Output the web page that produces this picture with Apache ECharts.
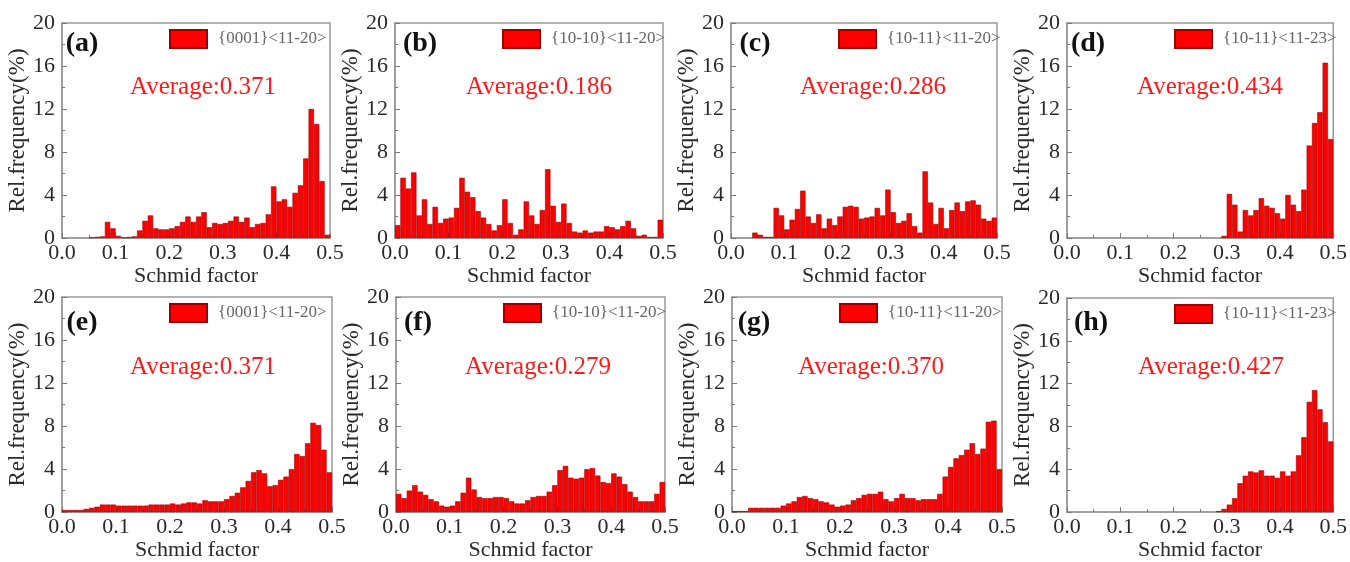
<!DOCTYPE html>
<html>
<head>
<meta charset="utf-8">
<script src="https://cdn.jsdelivr.net/npm/echarts@6/dist/echarts.min.js"></script>
<style>
html, body { margin: 0; padding: 0; background: #fff; }
#chart { width: 1350px; height: 562px; }
</style>
</head>
<body>
<div id="chart"></div>
<script>
// Schmid factor bins, 0.01 wide
const binStarts = [
    0.00, 0.01, 0.02, 0.03, 0.04, 0.05, 0.06, 0.07, 0.08, 0.09,
    0.10, 0.11, 0.12, 0.13, 0.14, 0.15, 0.16, 0.17, 0.18, 0.19,
    0.20, 0.21, 0.22, 0.23, 0.24, 0.25, 0.26, 0.27, 0.28, 0.29,
    0.30, 0.31, 0.32, 0.33, 0.34, 0.35, 0.36, 0.37, 0.38, 0.39,
    0.40, 0.41, 0.42, 0.43, 0.44, 0.45, 0.46, 0.47, 0.48, 0.49
];

const xTicks = [0, 0.1, 0.2, 0.3, 0.4, 0.5];
const yTicks = [0, 4, 8, 12, 16, 20];

const panelLabels = ['(a)', '(b)', '(c)', '(d)', '(e)', '(f)', '(g)', '(h)'];
const slipSystems = [
    '{0001}<11-20>', '{10-10}<11-20>', '{10-11}<11-20>', '{10-11}<11-23>',
    '{0001}<11-20>', '{10-10}<11-20>', '{10-11}<11-20>', '{10-11}<11-23>'
];
const averages = ['0.371', '0.186', '0.286', '0.434', '0.371', '0.279', '0.370', '0.427'];

// relative frequency (%) per bin
const freqA = [
    0, 0, 0, 0, 0, 0.05, 0.1, 0.15, 1.5, 0.9,
    0.2, 0.05, 0.1, 0.15, 0.7, 1.6, 2.1, 0.9, 0.8, 0.8,
    0.9, 1.1, 1.5, 2.0, 1.5, 2.0, 2.4, 1.0, 1.4, 1.3,
    1.4, 1.6, 2.0, 1.5, 1.9, 1.0, 1.3, 1.4, 2.2, 4.8,
    3.4, 3.6, 2.9, 4.2, 4.9, 7.4, 12.0, 10.6, 5.3, 0.3
];
const freqB = [
    1.2, 5.6, 4.6, 6.1, 2.1, 3.6, 1.3, 2.9, 1.4, 1.8,
    1.9, 2.8, 5.6, 4.3, 3.8, 2.5, 1.9, 1.3, 0.7, 1.2,
    3.6, 1.4, 0.3, 0.8, 3.4, 2.1, 1.3, 2.6, 6.4, 3.0,
    1.5, 3.2, 1.4, 0.6, 0.5, 0.7, 0.5, 0.6, 0.6, 1.1,
    1.0, 0.8, 1.1, 1.6, 0.9, 0.2, 0.3, 0.1, 0.1, 1.7
];
const freqC = [
    0, 0, 0, 0, 0.5, 0.3, 0.1, 0.1, 2.8, 2.1,
    0.8, 1.7, 2.7, 4.4, 2.0, 1.4, 2.2, 0.9, 1.8, 1.2,
    2.0, 2.9, 3.0, 2.9, 1.8, 1.9, 2.0, 2.8, 2.1, 4.5,
    2.4, 1.4, 1.6, 2.3, 1.1, 0.5, 6.2, 3.3, 1.3, 2.8,
    0.9, 2.6, 3.3, 2.5, 3.4, 3.5, 3.1, 1.8, 1.6, 1.9
];
const freqD = [
    0, 0, 0, 0, 0, 0, 0, 0, 0, 0,
    0, 0, 0, 0, 0, 0, 0, 0, 0, 0,
    0, 0, 0, 0, 0, 0, 0, 0, 0, 0.2,
    4.1, 3.1, 0.6, 2.6, 2.1, 2.6, 3.7, 3.0, 2.8, 2.3,
    1.8, 4.0, 3.1, 2.5, 4.5, 8.6, 10.7, 11.7, 16.3, 9.2
];
const freqE = [
    0.2, 0.2, 0.2, 0.2, 0.3, 0.4, 0.5, 0.7, 0.7, 0.7,
    0.6, 0.6, 0.6, 0.6, 0.6, 0.6, 0.7, 0.7, 0.7, 0.7,
    0.8, 0.7, 0.8, 0.9, 0.9, 0.8, 1.1, 1.0, 1.0, 1.0,
    1.2, 1.5, 1.8, 2.3, 2.9, 3.7, 3.9, 3.6, 2.4, 2.5,
    3.0, 3.3, 4.0, 5.4, 5.2, 6.4, 8.3, 8.1, 5.8, 3.7
];
const freqF = [
    1.7, 1.3, 2.0, 2.5, 1.9, 1.6, 1.2, 1.0, 0.6, 0.5,
    0.6, 1.0, 1.8, 3.2, 2.1, 1.4, 1.3, 1.3, 1.4, 1.4,
    1.3, 1.0, 0.8, 0.8, 1.1, 1.4, 1.5, 1.5, 1.9, 2.5,
    3.9, 4.3, 3.2, 3.1, 3.2, 4.0, 4.1, 3.4, 2.8, 2.7,
    3.6, 3.3, 2.6, 1.9, 1.4, 1.0, 1.0, 1.0, 1.7, 2.8
];
const freqG = [
    0.1, 0.1, 0.1, 0.4, 0.4, 0.4, 0.4, 0.4, 0.4, 0.6,
    0.8, 1.0, 1.4, 1.5, 1.3, 1.2, 1.0, 0.9, 0.7, 0.5,
    0.6, 0.7, 1.1, 1.3, 1.6, 1.7, 1.7, 1.9, 1.2, 1.0,
    1.3, 1.7, 1.3, 1.3, 1.1, 1.2, 1.2, 1.2, 1.7, 3.3,
    4.2, 5.0, 5.3, 5.8, 6.4, 5.4, 5.9, 8.4, 8.5, 4.0
];
const freqH = [
    0, 0, 0, 0, 0, 0, 0, 0, 0, 0,
    0, 0, 0, 0, 0, 0, 0, 0, 0, 0,
    0, 0, 0, 0, 0, 0, 0, 0, 0.1, 0.3,
    0.7, 1.3, 2.7, 3.4, 3.8, 3.7, 3.9, 3.4, 3.4, 3.2,
    3.8, 3.4, 3.8, 5.3, 7.0, 10.3, 11.4, 9.6, 8.4, 6.6
];
const freqs = [freqA, freqB, freqC, freqD, freqE, freqF, freqG, freqH];

// layout (pixels)
const gridBoxes = [
    { left: 62, top: 23, width: 268, height: 215 },
    { left: 395, top: 23, width: 268, height: 215 },
    { left: 731, top: 23, width: 266, height: 215 },
    { left: 1067, top: 23, width: 268, height: 215 },
    { left: 62, top: 297, width: 270, height: 217 },
    { left: 396, top: 297, width: 269, height: 217 },
    { left: 732, top: 297, width: 270, height: 217 },
    { left: 1067, top: 298, width: 268, height: 217 }
];
const labelPos = [[82, 44], [420, 44], [755, 44], [1088, 44], [82, 323], [418, 323], [754, 323], [1091, 323]];
const avgPos = [[203, 87], [539, 87], [873, 87], [1210, 87], [203, 367], [538, 367], [871, 367], [1211, 367]];

const serif = "'Liberation Serif', 'Times New Roman', serif";
const frameColor = '#9a9a9a';
const textColor = '#2a2a2a';

const chart = echarts.init(document.getElementById('chart'));

const grid = [], xAxis = [], yAxis = [], series = [], legend = [], graphic = [];

gridBoxes.forEach((box, i) => {
    grid.push({
        left: box.left, top: box.top, width: box.width, height: box.height,
        show: true, borderColor: frameColor, borderWidth: 1.5, containLabel: false
    });

    // bins (hidden category axis)
    xAxis.push({
        type: 'category', gridIndex: i, data: binStarts, position: 'top',
        boundaryGap: true, show: false
    });
    // visible Schmid factor axis
    xAxis.push({
        type: 'value', gridIndex: i, position: 'bottom',
        min: xTicks[0], max: xTicks[xTicks.length - 1], interval: 0.1,
        name: 'Schmid factor', nameLocation: 'middle', nameGap: 26,
        nameTextStyle: { fontFamily: serif, fontSize: 22, color: textColor },
        axisLine: { show: true, lineStyle: { color: frameColor, width: 1.5 } },
        axisTick: { show: true, inside: true, length: 5, lineStyle: { color: '#777' } },
        minorTick: { show: true, splitNumber: 2, length: 3, lineStyle: { color: '#777' } },
        axisLabel: {
            fontFamily: serif, fontSize: 22, color: textColor, margin: 4,
            formatter: v => v.toFixed(1)
        },
        splitLine: { show: false }
    });

    yAxis.push({
        type: 'value', gridIndex: i,
        min: yTicks[0], max: yTicks[yTicks.length - 1], interval: 4,
        name: 'Rel.frequency(%)', nameLocation: 'middle', nameGap: 27, nameRotate: 90,
        nameTextStyle: { fontFamily: serif, fontSize: 23, color: textColor },
        axisLine: { show: true, lineStyle: { color: frameColor, width: 1.5 } },
        axisTick: { show: true, inside: true, length: 5, lineStyle: { color: '#777' } },
        minorTick: { show: true, splitNumber: 2, length: 3, lineStyle: { color: '#777' } },
        axisLabel: { fontFamily: serif, fontSize: 22, color: textColor, margin: 7 },
        splitLine: { show: false }
    });

    series.push({
        type: 'bar', name: slipSystems[i],
        xAxisIndex: i * 2, yAxisIndex: i,
        // empty bins drawn as no bar
        data: freqs[i].map(v => (v === 0 ? '-' : v)),
        barCategoryGap: '0%',
        itemStyle: { color: '#ff0000', borderColor: '#9a0000', borderWidth: 0.6 },
        emphasis: { disabled: true }
    });

    legend.push({
        data: [slipSystems[i]],
        left: box.left + 102, top: box.top + 1,
        itemWidth: 37, itemHeight: 18, icon: 'rect',
        selectedMode: false,
        textStyle: { fontFamily: serif, fontSize: 17, color: '#666', padding: [0, 0, 0, 6] }
    });

    graphic.push({
        type: 'text', x: labelPos[i][0], y: labelPos[i][1],
        style: {
            text: panelLabels[i], font: 'bold 28px ' + serif, fill: '#111',
            textAlign: 'center', textVerticalAlign: 'middle', align: 'center', verticalAlign: 'middle'
        }
    });
    graphic.push({
        type: 'text', x: avgPos[i][0], y: avgPos[i][1],
        style: {
            text: 'Average:' + averages[i], font: '25px ' + serif, fill: '#ff1a1a',
            textAlign: 'center', textVerticalAlign: 'middle', align: 'center', verticalAlign: 'middle'
        }
    });
});

chart.setOption({
    backgroundColor: '#fff',
    animation: false,
    grid: grid,
    xAxis: xAxis,
    yAxis: yAxis,
    legend: legend,
    series: series,
    graphic: graphic
});
</script>
</body>
</html>
